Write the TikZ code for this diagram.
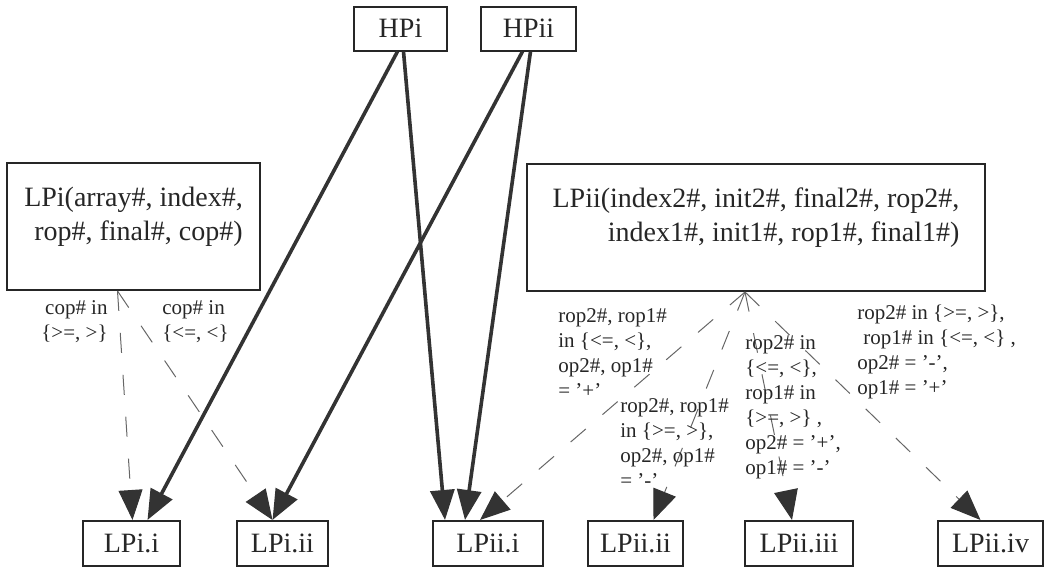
\documentclass[tikz,border=0pt]{standalone}
\usepackage{fontspec}
\setmainfont{Liberation Serif}
\usetikzlibrary{arrows.meta,positioning,calc}

\begin{document}
\begin{tikzpicture}[
    x=0.5pt, y=-0.5pt,
    >={Triangle[length=15pt,width=12pt]},
    hbox/.style={draw=black!85,line width=1pt,text=black!85,inner sep=0pt,
                 font=\fontsize{14}{17}\selectfont,minimum height=22pt},
    pbox/.style={hbox,minimum height=63.5pt},
    cond/.style={inner sep=0pt,align=left,text=black!85,
                 font=\fontsize{10.5}{12.5}\selectfont},
    link/.style={->,draw=black!80,line width=1.8pt},
    spec/.style={-{Triangle[length=15pt,width=12pt,color=black!80]},draw=black!60,
                 line width=0.5pt,dash pattern=on 10pt off 11pt},
  ]
  \useasboundingbox (0,0) rectangle (1045,568);

  % --- top: the two HP boxes ---
  \node[hbox,minimum width=46.5pt] (hp1) at (400.5,28.5) {HPi};
  \node[hbox,minimum width=47.5pt] (hp2) at (528.5,28.5) {HPii};

  % --- middle: parameterised LP boxes ---
  \node[pbox,minimum width=126.5pt,align=left] (lp1) at (133.5,226.5)
       {LPi(array\#, index\#,\\\hspace*{5pt}rop\#, final\#, cop\#)\\[-4pt]};
  \node[pbox,minimum width=229pt,align=right] (lp2) at (756,227.5)
       {LPii(index2\#, init2\#, final2\#, rop2\#,\\index1\#, init1\#, rop1\#, final1\#)\\[-4pt]};

  % --- bottom row: instances ---
  \node[hbox,minimum width=48.5pt,minimum height=22.5pt] (lp1a) at (131.5,543.5) {LPi.i};
  \node[hbox,minimum width=45.5pt,minimum height=22.5pt] (lp1b) at (282.5,543.5) {LPi.ii};
  \node[hbox,minimum width=55pt,minimum height=22.5pt]   (lp2a) at (488,543.5)   {LPii.i};
  \node[hbox,minimum width=47.5pt,minimum height=22.5pt] (lp2b) at (635.5,543.5) {LPii.ii};
  \node[hbox,minimum width=54pt,minimum height=22.5pt]   (lp2c) at (799,543.5)   {LPii.iii};
  \node[hbox,minimum width=52.5pt,minimum height=22.5pt] (lp2d) at (990.5,543.5) {LPii.iv};

  % --- HP -> instances ---
  \draw[link] ([xshift=-1.5pt]hp1.south) -- ([xshift=8pt]lp1a.north);
  \draw[link] ([xshift=1.5pt]hp1.south)  -- ([xshift=-21.5pt]lp2a.north);
  \draw[link] ([xshift=-3pt]hp2.south)   -- ([xshift=-5pt]lp1b.north);
  \draw[link] ([xshift=1pt]hp2.south)    -- ([xshift=-11.5pt]lp2a.north);

  % --- specialisation fans ---
  \coordinate (fan1) at ([xshift=-8pt]lp1.south);
  \coordinate (fan2) at ([xshift=-5.5pt]lp2.south);
  \draw[spec] (fan1) -- ([xshift=0.5pt]lp1a.north);
  \draw[spec] (fan1) -- ([xshift=-5pt]lp1b.north);
  \draw[spec] (fan2) -- ([xshift=-4pt]lp2a.north);
  \draw[spec] (fan2) -- ([xshift=9pt]lp2b.north);
  \draw[spec] (fan2) -- ([xshift=-3.5pt]lp2c.north);
  \draw[spec] (fan2) -- ([xshift=-5pt]lp2d.north);

  % --- conditions ---
  \node[cond,anchor=north east,align=right] (c1) at (108,300) {cop\# in\\\{>=, >\}};
  \node[cond,anchor=north west] (c2) at (162,300) {cop\# in\\\{<=, <\}};
  \node[cond,anchor=north west] (c3) at (558,308)
       {rop2\#, rop1\#\\in \{<=, <\},\\op2\#, op1\#\\= '+'};
  \node[cond,anchor=north west] (c4) at (620,398)
       {rop2\#, rop1\#\\in \{>=, >\},\\op2\#, op1\#\\= '-'};
  \node[cond,anchor=north west] (c5) at (745,335)
       {rop2\# in\\\{<=, <\},\\rop1\# in\\\{>=, >\} ,\\op2\# = '+',\\op1\# = '-'};
  \node[cond,anchor=north west] (c6) at (857,305)
       {rop2\# in \{>=, >\},\\\hspace*{3pt}rop1\# in \{<=, <\} ,\\op2\# = '-',\\op1\# = '+'};

\end{tikzpicture}
\end{document}
